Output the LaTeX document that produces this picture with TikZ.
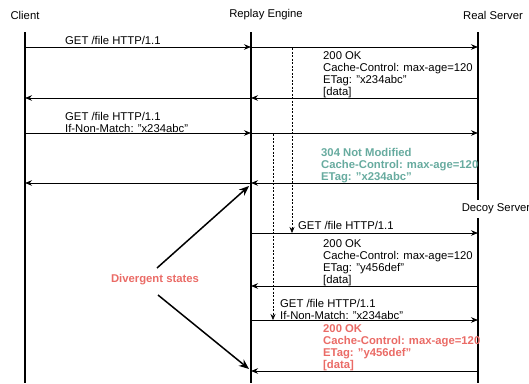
\documentclass[tikz,border=0pt]{standalone}
\usepackage{fontspec}
\setmainfont{Liberation Sans}
\usetikzlibrary{arrows.meta}
\definecolor{okgreen}{HTML}{67AB9F}
\definecolor{badred}{HTML}{EA6B66}

\begin{document}
\begin{tikzpicture}[x=1pt, y=-1pt,
    font=\fontsize{11.3}{12.2}\selectfont,
    actor/.style={inner sep=0pt},
    lifeline/.style={line width=1.5pt},
    msg/.style={line width=0.8pt, -{Stealth[length=7pt,width=5.5pt]}},
    msgtext/.style={anchor=north west, inner sep=0pt, align=left},
    waitline/.style={line width=0.6pt, dash pattern=on 2pt off 1.5pt, -{Stealth[length=6pt,width=5pt]}},
    pointer/.style={line width=1.5pt, -{Stealth[length=10pt,width=8pt]}}]
        \useasboundingbox (0,0) rectangle (529,383);

        % Draw the actors
        \node (client)  [actor] at (25,15)  {Client};
        \node (engine)  [actor] at (266,15) {Replay Engine};
        \node (real)    [actor] at (493,15) {Real Server};
        \node (decoy)   [actor] at (496,209) {Decoy Server};

        % Lifelines
        \coordinate (clientTop) at (25,32);  \coordinate (clientEnd) at (25,383);
        \coordinate (engineTop) at (251,32); \coordinate (engineEnd) at (251,383);
        \coordinate (realTop)   at (478,32); \coordinate (realEnd)   at (478,200);
        \coordinate (decoyTop)  at (478,218); \coordinate (decoyEnd) at (478,383);
        \draw [lifeline] (clientTop) -- (clientEnd);
        \draw [lifeline] (engineTop) -- (engineEnd);
        \draw [lifeline] (realTop) -- (realEnd);
        \draw [lifeline] (decoyTop) -- (decoyEnd);

        % Message rows
        \coordinate (m1) at (0,47);
        \coordinate (m2) at (0,98);
        \coordinate (m3) at (0,133);
        \coordinate (m4) at (0,183);
        \coordinate (m5) at (0,233);
        \coordinate (m6) at (0,286);
        \coordinate (m7) at (0,320);
        \coordinate (m8) at (0,371);

        % First request, served by the real server
        \node (get1)  [msgtext] at (65,36) {GET /file HTTP/1.1};
        \draw [msg] (clientTop |- m1) -- (engineTop |- m1);
        \draw [msg] (engineTop |- m1) -- (realTop |- m1);
        \node (ok1)   [msgtext] at (323,51) {200 OK\\Cache-Control: max-age=120\\ETag: "x234abc"\\{[data]}};
        \draw [msg] (realTop |- m2) -- (engineTop |- m2);
        \draw [msg] (engineTop |- m2) -- (clientTop |- m2);

        % Conditional request
        \node (get2)  [msgtext] at (65,112) {GET /file HTTP/1.1\\If-Non-Match: "x234abc"};
        \draw [msg] (clientTop |- m3) -- (engineTop |- m3);
        \draw [msg] (engineTop |- m3) -- (realTop |- m3);
        \node (nm)    [msgtext, text=okgreen, font=\fontsize{11.3}{12.2}\selectfont\bfseries] at (321,148) {304 Not Modified\\Cache-Control: max-age=120\\ETag: "x234abc"};
        \draw [msg] (realTop |- m4) -- (engineTop |- m4);
        \draw [msg] (engineTop |- m4) -- (clientTop |- m4);

        % Replayed requests to the decoy
        \coordinate (wait1) at (292,48);  \coordinate (wait1end) at (292,233);
        \coordinate (wait2) at (273,134); \coordinate (wait2end) at (273,320);
        \draw [waitline] (wait1) -- (wait1end);
        \draw [waitline] (wait2) -- (wait2end);

        \node (get3)  [msgtext] at (298,221) {GET /file HTTP/1.1};
        \draw [msg] (engineTop |- m5) -- (decoyTop |- m5);
        \node (ok2)   [msgtext] at (323,239) {200 OK\\Cache-Control: max-age=120\\ETag: "y456def"\\{[data]}};
        \draw [msg] (decoyTop |- m6) -- (engineTop |- m6);

        \node (get4)  [msgtext] at (280,299) {GET /file HTTP/1.1\\If-Non-Match: "x234abc"};
        \draw [msg] (engineTop |- m7) -- (decoyTop |- m7);
        \node (ok3)   [msgtext, text=badred, font=\fontsize{11.3}{12.2}\selectfont\bfseries] at (323,324) {200 OK\\Cache-Control: max-age=120\\ETag: "y456def"\\{[data]}};
        \draw [msg] (decoyTop |- m8) -- (engineTop |- m8);

        % Divergent states
        \node (div) [actor, text=badred, font=\fontsize{11.3}{12.2}\selectfont\bfseries] at (155,280) {Divergent states};
        \coordinate (divUp)   at (157,268); \coordinate (hitUp)   at (249,186);
        \coordinate (divDown) at (158,295); \coordinate (hitDown) at (249,369);
        \draw [pointer] (divUp) -- (hitUp);
        \draw [pointer] (divDown) -- (hitDown);
    \end{tikzpicture}
\end{document}
